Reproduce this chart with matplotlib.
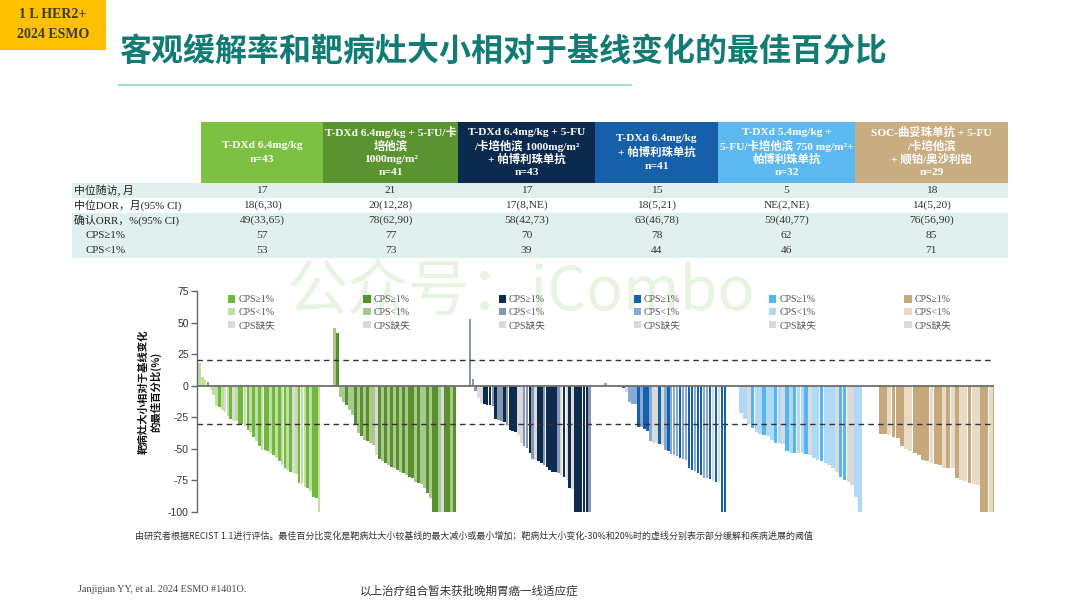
import numpy as np
import matplotlib
matplotlib.use('Agg')
import matplotlib.pyplot as plt
from matplotlib.patches import Patch, Rectangle
from matplotlib.legend import Legend
from matplotlib.font_manager import FontProperties

# ---------------- data ----------------
arm_headers = [
    ["T-DXd 6.4mg/kg", "n=43"],
    ["T-DXd 6.4mg/kg + 5-FU/卡", "培他滨", "1000mg/m²", "n=41"],
    ["T-DXd 6.4mg/kg + 5-FU", "/卡培他滨 1000mg/m²", "+ 帕博利珠单抗", "n=43"],
    ["T-DXd 6.4mg/kg", "+ 帕博利珠单抗", "n=41"],
    ["T-DXd 5.4mg/kg +", "5-FU/卡培他滨 750 mg/m²+", "帕博利珠单抗", "n=32"],
    ["SOC-曲妥珠单抗 + 5-FU", "/卡培他滨", "+ 顺铂/奥沙利铂", "n=29"],
]
row_labels = ["中位随访, 月", "中位DOR，月(95% CI)", "确认ORR，%(95% CI)", "CPS≥1%", "CPS<1%"]
median_followup = ["17", "21", "17", "15", "5", "18"]
median_dor = ["18(6,30)", "20(12,28)", "17(8,NE)", "18(5,21)", "NE(2,NE)", "14(5,20)"]
confirmed_orr = ["49(33,65)", "78(62,90)", "58(42,73)", "63(46,78)", "59(40,77)", "76(56,90)"]
orr_cps_ge1 = ["57", "77", "70", "78", "62", "85"]
orr_cps_lt1 = ["53", "73", "39", "44", "46", "71"]

g1_values = [18, 7, 4.5, 3, -3, -7, -16, -17, -19, -21, -24, -26, -28, -28, -30, -30, -32, -35, -37, -41,
             -44, -48, -51, -51, -52, -53, -55, -57, -60, -63, -65, -67, -68, -69, -70, -77, -78, -80, -81,
             -83, -88, -89, -100]
g1_cps = "LLLHMLLHLMLHMLHHLHLHLHLHHLHLHLHLHMLHLLHLHHL"
g2_values = [46, 41.5, -8.7, -12.7, -15, -19, -23, -31, -37.7, -40, -43, -44, -45.6, -47, -55, -58, -60,
             -61.5, -62.8, -64, -65.4, -66.8, -68, -69.4, -70.7, -72, -73.4, -76, -77, -78, -81, -85, -89,
             -100, -100, -100, -100, -100, -100, -100, -100]
g2_cps = "LHLLHLLHLHLHLLMHLHLHLHLHLHHLHLLHLHHLMHHLH"
g3_values = [52.8, 5, -4, -10, -14, -14.8, -15, -15.3, -16, -26, -27, -28, -28.5, -31, -35, -36, -37, -39,
             -45.6, -48, -49.6, -53.5, -58, -58.8, -60, -61.5, -62.8, -64, -66.8, -68, -68, -69.4, -70.7,
             -72, -74.7, -81, -82, -100, -100, -100, -100, -100, -100]
g3_cps = "LLLMMHHHLHLLHLHHHMMLLHLMHHLHHHHLMHMHMHHHHHL"
g4_values = [2, 0, 0, 0, 0, 0, -2, -5, -12.7, -14.5, -14.5, -32.5, -33, -34, -36, -44, -45, -45.6, -46.4,
             -47, -51, -51.7, -54, -55, -55.5, -57, -58, -59, -65.4, -66.8, -67.5, -69.4, -70.7, -72.8,
             -73.4, -74, -75.5, -76, -76.8, -100, -100]
g4_cps = "LLLLLLHMLLLHLHHLMMHMLHLLLHLLHHLHHLLHMHMHH"
g5_values = [-22, -26.6, -30, -33.8, -36.4, -38, -39, -40, -43, -45, -45.6, -46, -52, -53, -53, -53.2,
             -53.6, -54.4, -55, -57.5, -59, -60, -61, -62.8, -65.4, -68, -72, -74.7, -76, -78.6, -88, -100]
g5_cps = "LLMHLLHLLHLMHLHLLHMLLHLLLMHHMMLL"
g6_values = [-1, -38.3, -38.3, -39, -40.4, -41.7, -47.5, -50.4, -51.5, -53.6, -54.9, -58.8, -59.4, -61,
             -62, -63, -65, -65, -65.4, -73.4, -74.7, -75.5, -77.3, -78, -78.6, -100, -100, -100, -100]
g6_cps = "LHHLHHHLLHHHHLHHLHLHLLHLLHHLH"

legend_labels = ["CPS≥1%", "CPS<1%", "CPS缺失"]
y_ticks = [75, 50, 25, 0, -25, -50, -75, -100]
pr_threshold = -30
pd_threshold = 20

# ---------------- styles ----------------
header_colors = ["#7DC142", "#5C9331", "#0C2A4D", "#1660A9", "#5BB9F0", "#C8AD82"]
bar_colors = [
    {"H": "#72B83C", "L": "#BEDFA2", "M": "#DADADA"},
    {"H": "#5A8F2E", "L": "#A8C98C", "M": "#DADADA"},
    {"H": "#0D2B4E", "L": "#8597B2", "M": "#DADADA"},
    {"H": "#1561AA", "L": "#86A9D6", "M": "#DADADA"},
    {"H": "#55B5EE", "L": "#AEDAF6", "M": "#DADADA"},
    {"H": "#C6A87C", "L": "#E8DBC6", "M": "#DADADA"},
]
group_values = [g1_values, g2_values, g3_values, g4_values, g5_values, g6_values]
group_cps = [g1_cps, g2_cps, g3_cps, g4_cps, g5_cps, g6_cps]

SERIF_CJK = ["Liberation Serif", "Noto Sans CJK SC", "DejaVu Sans"]
SANS_CJK = ["Noto Sans CJK SC", "DejaVu Sans"]

W, H = 1080, 608
fig = plt.figure(figsize=(W / 100, H / 100), dpi=100)
fig.patch.set_facecolor("white")

# overlay in pixel coordinates
ov = fig.add_axes([0, 0, 1, 1], zorder=0)
ov.set_xlim(0, W)
ov.set_ylim(H, 0)
ov.axis("off")

# badge
ov.add_patch(Rectangle((0, 0), 106, 50, color="#FFC000", lw=0))
ov.text(53, 15, "1 L HER2+", ha="center", va="center", fontsize=10, fontweight="bold",
        family=SERIF_CJK, color="#3A3A3A")
ov.text(53, 35, "2024 ESMO", ha="center", va="center", fontsize=10, fontweight="bold",
        family=SERIF_CJK, color="#3A3A3A")

# title
ov.text(503, 53, "客观缓解率和靶病灶大小相对于基线变化的最佳百分比", ha="center", va="center",
        fontsize=23, fontweight="bold", family=SANS_CJK, color="#127C74")
ov.plot([118, 632], [85, 85], color="#A6DFD4", lw=1.6, solid_capstyle="butt")

# table
col_edges = [72, 201, 323, 458, 595, 718, 855, 1008]
header_top, header_bot = 122, 183
row_edges = [183, 198, 213, 228, 243, 258]
for k in range(6):
    x0, x1 = col_edges[k + 1], col_edges[k + 2]
    ov.add_patch(Rectangle((x0, header_top), x1 - x0, header_bot - header_top,
                           color=header_colors[k], lw=0))
    lines = arm_headers[k]
    n = len(lines)
    cy = (header_top + header_bot) / 2
    step = 13.6
    for j, line in enumerate(lines):
        yy = cy + (j - (n - 1) / 2) * step
        ov.text((x0 + x1) / 2, yy, line, ha="center", va="center", fontsize=8.2,
                fontweight="bold", family=SERIF_CJK, color="white")

row_bg = ["#DFF0EE", "white", "#DFF0EE", "#DFF0EE", "#DFF0EE"]
table_values = [median_followup, median_dor, confirmed_orr, orr_cps_ge1, orr_cps_lt1]
for r in range(5):
    y0, y1 = row_edges[r], row_edges[r + 1]
    ov.add_patch(Rectangle((col_edges[0], y0), col_edges[-1] - col_edges[0], y1 - y0,
                           color=row_bg[r], lw=0))
    cy = (y0 + y1) / 2
    lx = 74 if r < 3 else 86
    ov.text(lx, cy, row_labels[r], ha="left", va="center", fontsize=7.8,
            family=SANS_CJK if r == 0 else SERIF_CJK, color="#222222")
    for k in range(6):
        x0, x1 = col_edges[k + 1], col_edges[k + 2]
        ov.text((x0 + x1) / 2, cy, table_values[r][k], ha="center", va="center", fontsize=8.2,
                family=SERIF_CJK, color="#333333")

# watermark
ov.text(521, 293, "公众号：iCombo", ha="center", va="center", fontsize=44,
        family=SANS_CJK, color="#DDF0D5", alpha=0.7, fontweight="light")

# y label
ov.text(150, 392, "靶病灶大小相对于基线变化\n的最佳百分比(%)", ha="center", va="center",
        rotation=90, fontsize=7.5, fontweight="bold", family=SANS_CJK, color="#111111",
        linespacing=1.15)

# footnotes
ov.text(135, 536, "由研究者根据RECIST 1.1进行评估。最佳百分比变化是靶病灶大小较基线的最大减小或最小增加；"
        "靶病灶大小变化-30%和20%时的虚线分别表示部分缓解和疾病进展的阈值",
        ha="left", va="center", fontsize=6.45, family=SANS_CJK, color="#333333")
ov.text(78, 590, "Janjigian YY, et al. 2024 ESMO #1401O.", ha="left", va="center", fontsize=7.3,
        family=SERIF_CJK, color="#444444")
ov.text(360, 591, "以上治疗组合暂未获批晚期胃癌一线适应症", ha="left", va="center", fontsize=8.3,
        family=SANS_CJK, color="#333333")

# ---------------- waterfall ----------------
ax_left, ax_right, ax_top, ax_bot = 197, 994, 291, 512
ax = fig.add_axes([ax_left / W, 1 - ax_bot / H, (ax_right - ax_left) / W, (ax_bot - ax_top) / H],
                  zorder=1)
ax.patch.set_alpha(0)
span = ax_right - ax_left
ax.set_xlim(0, span)
ax.set_ylim(-100, 75)

GROUP_STEP = 135.3
GROUP_WIDTH = 122.5
for k in range(6):
    vals = np.asarray(group_values[k], dtype=float)
    cats = group_cps[k]
    n = len(vals)
    start = 1 + k * GROUP_STEP
    pitch = GROUP_WIDTH / n
    xs = start + (np.arange(n) + 0.5) * pitch
    cols = [bar_colors[k][c] for c in cats]
    ax.bar(xs, vals, width=pitch * 0.92, color=cols, lw=0, zorder=2)
    handles = [Patch(facecolor=bar_colors[k][c], edgecolor="none") for c in "HLM"]
    leg = Legend(ax, handles, legend_labels, loc="upper left",
                 bbox_to_anchor=(start + 30, 71.5), bbox_transform=ax.transData,
                 frameon=False, prop=FontProperties(family=SERIF_CJK, size=7),
                 handlelength=0.75, handleheight=0.75, handletextpad=0.3,
                 labelspacing=0.38, borderpad=0, borderaxespad=0)
    for t in leg.get_texts():
        t.set_color("#555555")
    ax.add_artist(leg)

ax.axhline(0, color="#6E6E6E", lw=1.3, zorder=3)
ax.axhline(pd_threshold, color="#333333", lw=1.0, ls=(0, (4, 3)), zorder=3)
ax.axhline(pr_threshold, color="#333333", lw=1.0, ls=(0, (4, 3)), zorder=3)

for s in ["top", "right", "bottom"]:
    ax.spines[s].set_visible(False)
ax.spines["left"].set_color("#666666")
ax.spines["left"].set_linewidth(1.0)
ax.set_xticks([])
ax.set_yticks(y_ticks)
ax.set_yticklabels([str(t) for t in y_ticks], fontsize=7.5, color="#333333",
                   family=["Liberation Sans", "DejaVu Sans"])
ax.tick_params(axis="y", length=4, width=1, color="#666666", pad=2)

fig.savefig("out.png", dpi=100, facecolor="white")
